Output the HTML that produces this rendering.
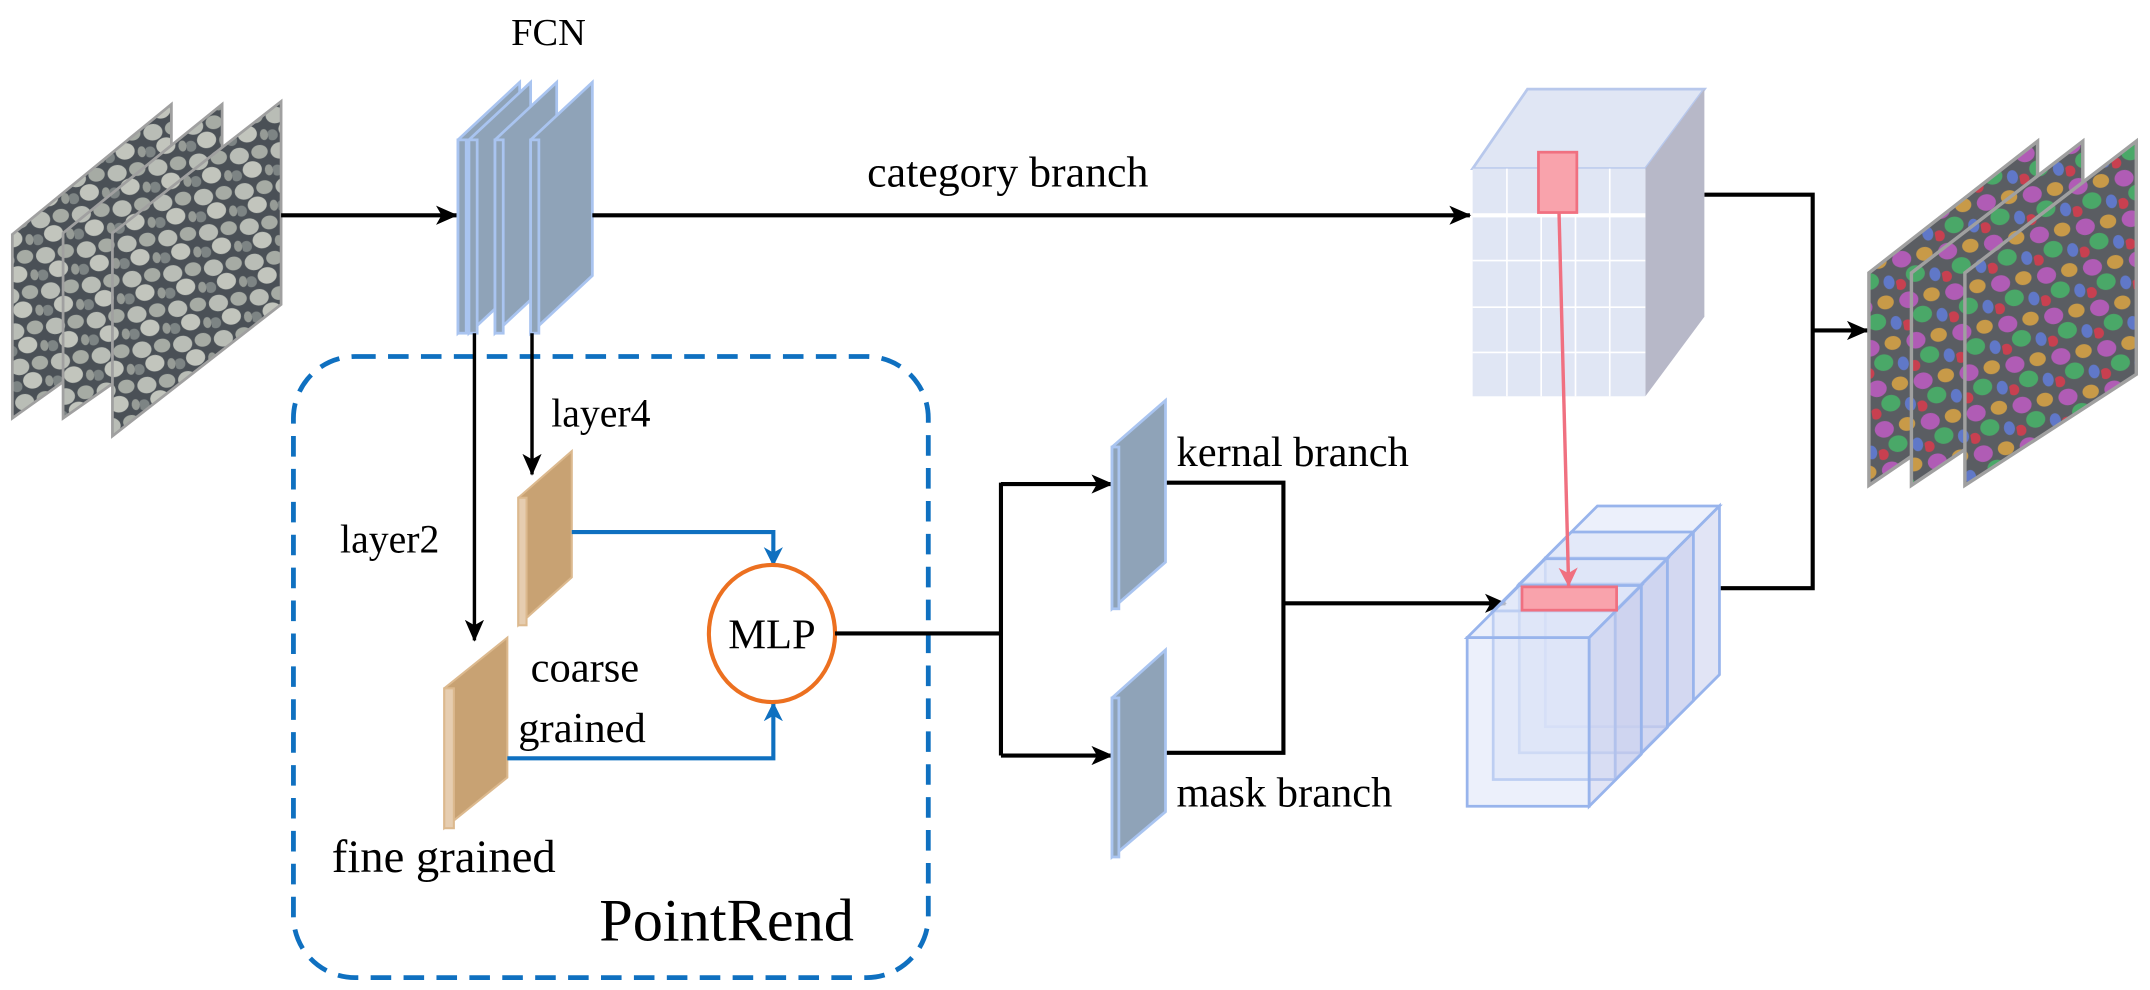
<!DOCTYPE html>
<html><head><meta charset="utf-8"><style>html,body{margin:0;padding:0;background:#fff}svg{display:block}svg text{font-family:"Liberation Serif","Times New Roman",serif;fill:#000}</style></head><body>
<svg width="2150" height="990" viewBox="0 0 1568 722" preserveAspectRatio="none" xmlns="http://www.w3.org/2000/svg" font-family="Liberation Serif, serif">
<defs>
<pattern id="pin" width="30" height="26" patternUnits="userSpaceOnUse" patternTransform="rotate(-8)">
<rect width="30" height="26" fill="#4a5056"/>
<ellipse cx="7" cy="7" rx="7" ry="6" fill="#b9bdb6"/>
<ellipse cx="22" cy="6" rx="6" ry="5" fill="#a6aba4"/>
<ellipse cx="15" cy="18" rx="7" ry="6" fill="#c2c5bd"/>
<ellipse cx="3" cy="21" rx="4" ry="4" fill="#7d8484"/>
<ellipse cx="27" cy="20" rx="3" ry="4" fill="#969b96"/>
</pattern>
<pattern id="pout" width="34" height="30" patternUnits="userSpaceOnUse" patternTransform="rotate(-10)">
<rect width="34" height="30" fill="#5a5d62"/>
<ellipse cx="7" cy="7" rx="7" ry="6" fill="#b05cb5"/>
<ellipse cx="24" cy="6" rx="6" ry="5" fill="#c89a48"/>
<ellipse cx="15" cy="19" rx="7" ry="6" fill="#4aa868"/>
<ellipse cx="3" cy="25" rx="4" ry="4" fill="#c84050"/>
<ellipse cx="29" cy="22" rx="4" ry="5" fill="#6078c8"/>
</pattern>
<marker id="ab" markerWidth="16" markerHeight="14" refX="15" refY="7" orient="auto" markerUnits="userSpaceOnUse"><path d="M0,0 L16,7 L0,14 L4,7z" fill="#000"/></marker>
<marker id="abl" markerWidth="14" markerHeight="14" refX="13" refY="7" orient="auto" markerUnits="userSpaceOnUse"><path d="M0,0 L14,7 L0,14 L4,7z" fill="#0f70c0"/></marker>
<marker id="ar" markerWidth="14" markerHeight="14" refX="13" refY="7" orient="auto" markerUnits="userSpaceOnUse"><path d="M0,0 L14,7 L0,14 L4,7z" fill="#f07080"/></marker>
</defs>

<g stroke="#a0a0a0" stroke-width="2">
<polygon points="9,171 125,76 125,222 9,305" fill="url(#pin)"/>
<polygon points="46,170 162,76 162,224 46,305" fill="url(#pin)"/>
<polygon points="82,170 205,74 205,222 82,318" fill="url(#pin)"/>
</g>
<line x1="205" y1="157" x2="333" y2="157" stroke="#000" stroke-width="3" marker-end="url(#ab)"/>

<text x="400" y="33" font-size="28" text-anchor="middle">FCN</text>
<g fill="#8fa3b8" stroke="#a9c4f0" stroke-width="2">
<polygon points="334,102 379,60 379,201 334,243"/><rect x="334" y="102" width="6" height="141"/>
<polygon points="342,102 387,60 387,201 342,243"/><rect x="342" y="102" width="6" height="141"/>
<polygon points="361,102 406,60 406,201 361,243"/><rect x="361" y="102" width="6" height="141"/>
<polygon points="387,102 432,60 432,201 387,243"/><rect x="387" y="102" width="6" height="141"/>
</g>
<line x1="432" y1="157" x2="1072" y2="157" stroke="#000" stroke-width="3" marker-end="url(#ab)"/>
<text x="735" y="136" font-size="32" text-anchor="middle">category branch</text>

<rect x="214" y="260" width="463" height="453" rx="45" fill="none" stroke="#0f70c0" stroke-width="3.5" stroke-dasharray="15,9"/>
<line x1="346" y1="243" x2="346" y2="467" stroke="#000" stroke-width="2.5" marker-end="url(#ab)"/>
<line x1="388" y1="243" x2="388" y2="346" stroke="#000" stroke-width="2.5" marker-end="url(#ab)"/>
<text x="402" y="311" font-size="29">layer4</text>
<text x="248" y="403" font-size="29">layer2</text>

<g fill="#c8a273" stroke="#dcb98e" stroke-width="1.5">
<polygon points="378,363 417,329 417,421 378,456"/>
<rect x="378" y="363" width="6" height="93" fill="#e6cdb0"/>
<polygon points="324,502 370,465 370,567 324,604"/>
<rect x="324" y="502" width="7" height="102" fill="#e6cdb0"/>
</g>
<polyline points="417,388 564,388 564,412" fill="none" stroke="#0f70c0" stroke-width="3" marker-end="url(#abl)"/>
<polyline points="370,553 564,553 564,513" fill="none" stroke="#0f70c0" stroke-width="3" marker-end="url(#abl)"/>
<ellipse cx="563" cy="462" rx="46" ry="50" fill="#fff" stroke="#ec7020" stroke-width="3"/>
<text x="563" y="473" font-size="31" text-anchor="middle">MLP</text>
<text x="387" y="497" font-size="31">coarse</text>
<text x="378" y="541" font-size="31">grained</text>
<text x="242" y="636" font-size="34">fine grained</text>
<text x="437" y="686" font-size="44">PointRend</text>

<g stroke="#000" stroke-width="3" fill="none">
<line x1="609" y1="462" x2="730" y2="462"/>
<line x1="730" y1="352" x2="730" y2="551"/>
<line x1="730" y1="353" x2="811" y2="353" marker-end="url(#ab)"/>
<line x1="730" y1="551" x2="811" y2="551" marker-end="url(#ab)"/>
<polyline points="850,352 936,352 936,549 850,549"/>
<line x1="936" y1="440" x2="1098" y2="440" marker-end="url(#ab)"/>
<polyline points="1243,142 1322,142 1322,429 1254,429"/>
<line x1="1322" y1="241" x2="1362" y2="241" marker-end="url(#ab)"/>
</g>
<g fill="#8fa3b8" stroke="#a9c4f0" stroke-width="2">
<polygon points="811,326 850,292 850,410 811,444"/><rect x="811" y="326" width="5" height="118"/>
<polygon points="811,509 850,474 850,592 811,625"/><rect x="811" y="509" width="5" height="116"/>
</g>
<text x="858" y="340" font-size="31">kernal branch</text>
<text x="858" y="588" font-size="31">mask branch</text>

<polygon points="1074,123 1114,65 1243,65 1200,123" fill="#e0e6f4" stroke="#b8c8ec" stroke-width="2"/>
<polygon points="1200,123 1243,65 1243,231 1200,289" fill="#b7b8c8"/>
<rect x="1074" y="123" width="126" height="166" fill="#e0e6f4"/>
<g stroke="#fff" stroke-width="1.2">
<line x1="1099" y1="123" x2="1099" y2="289"/><line x1="1124" y1="123" x2="1124" y2="289"/>
<line x1="1149" y1="123" x2="1149" y2="289"/><line x1="1174" y1="123" x2="1174" y2="289"/>
<line x1="1074" y1="157" x2="1200" y2="157" stroke-width="3"/>
<line x1="1074" y1="190" x2="1200" y2="190"/><line x1="1074" y1="224" x2="1200" y2="224"/><line x1="1074" y1="257" x2="1200" y2="257"/>
</g>
<rect x="1122" y="111" width="28" height="44" fill="#f9a3ac" stroke="#f07080" stroke-width="2"/>

<g stroke="#98b4ec" stroke-width="2" fill="#dde3f7" fill-opacity="0.55">
<g transform="translate(57,-58)"><rect x="1070" y="465" width="89" height="123"/><polygon points="1070,465 1108,427 1197,427 1159,465"/><polygon points="1159,465 1197,427 1197,550 1159,588" fill="#c8cdec"/></g>
<g transform="translate(38,-39)"><rect x="1070" y="465" width="89" height="123"/><polygon points="1070,465 1108,427 1197,427 1159,465"/><polygon points="1159,465 1197,427 1197,550 1159,588" fill="#c8cdec"/></g>
<g transform="translate(19,-19.5)"><rect x="1070" y="465" width="89" height="123"/><polygon points="1070,465 1108,427 1197,427 1159,465"/><polygon points="1159,465 1197,427 1197,550 1159,588" fill="#c8cdec"/></g>
<g><rect x="1070" y="465" width="89" height="123"/><polygon points="1070,465 1108,427 1197,427 1159,465"/><polygon points="1159,465 1197,427 1197,550 1159,588" fill="#c8cdec"/></g>
</g>
<rect x="1110" y="428" width="69" height="17" fill="#f9a3ac" stroke="#f07080" stroke-width="2"/>
<line x1="1137" y1="155" x2="1144" y2="427" stroke="#f07080" stroke-width="2.5" marker-end="url(#ar)"/>

<g stroke="#a0a0a0" stroke-width="2.5">
<polygon points="1363,199 1486,103 1486,270 1363,354" fill="url(#pout)"/>
<polygon points="1394,199 1519,103 1519,270 1394,354" fill="url(#pout)"/>
<polygon points="1433,199 1558,103 1558,273 1433,354" fill="url(#pout)"/>
</g>
</svg>
</body></html>
